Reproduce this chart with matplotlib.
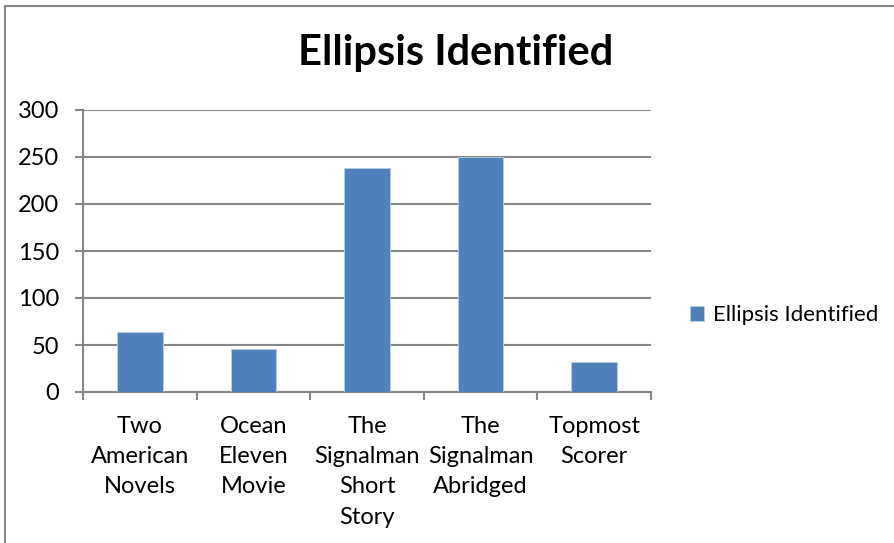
import matplotlib
matplotlib.use("Agg")
import matplotlib.pyplot as plt
from matplotlib.lines import Line2D
import numpy as np

categories = ["Two\nAmerican\nNovels", "Ocean\nEleven\nMovie", "The\nSignalman\nShort\nStory",
              "The\nSignalman\nAbridged", "Topmost\nScorer"]
values = [64, 46, 238, 250, 32]
series_name = "Ellipsis Identified"
yticks = [0, 50, 100, 150, 200, 250, 300]

plt.rcParams['font.family'] = ['Lato', 'DejaVu Sans']
grey = '#868686'
bar_color = '#4F81BD'

fig = plt.figure(figsize=(8.95, 5.43), dpi=100)
ax = fig.add_axes([83/895, (543-392)/543, (651-83)/895, (392-110)/543])

x = np.arange(len(categories))
bars = ax.bar(x, values, width=0.4, color=bar_color, edgecolor='#B9CDE5', linewidth=0.6,
              label=series_name, zorder=3)

ax.set_xlim(-0.5, len(categories) - 0.5)
ax.set_ylim(0, 300)
ax.set_yticks(yticks)
ax.yaxis.grid(True, color=grey, linewidth=1.5, zorder=0)
ax.set_axisbelow(True)

for s in ['top', 'right']:
    ax.spines[s].set_visible(False)
for s in ['left', 'bottom']:
    ax.spines[s].set_color(grey)
    ax.spines[s].set_linewidth(1.5)

ax.set_xticks(x)
ax.set_xticklabels(categories, fontsize=17, linespacing=1.55, va='top')
ax.set_xticks(np.arange(-0.5, len(categories)), minor=True)
ax.tick_params(axis='x', which='major', length=0, pad=17)
ax.tick_params(axis='x', which='minor', length=6, width=1.5, color=grey, direction='out')
ax.tick_params(axis='y', length=6, width=1.5, color=grey, direction='out', labelsize=17, pad=11)

fig.text(456/895, 1 - 53/543, "Ellipsis Identified", fontsize=30, fontweight='bold',
         ha='center', va='center')

leg = fig.legend(handles=[bars], labels=[series_name], loc='center left',
                 bbox_to_anchor=(670/895, 1 - 315/543), frameon=False, fontsize=16,
                 handlelength=0.65, handleheight=0.65, handletextpad=0.4)

# chart border
fig.add_artist(Line2D([5.5/895, 5.5/895], [0, 1 - 5.5/543], transform=fig.transFigure,
                      color=grey, linewidth=1.5))
fig.add_artist(Line2D([5.5/895, 1], [1 - 5.5/543, 1 - 5.5/543], transform=fig.transFigure,
                      color=grey, linewidth=1.5))

fig.savefig("out.png", dpi=100)
